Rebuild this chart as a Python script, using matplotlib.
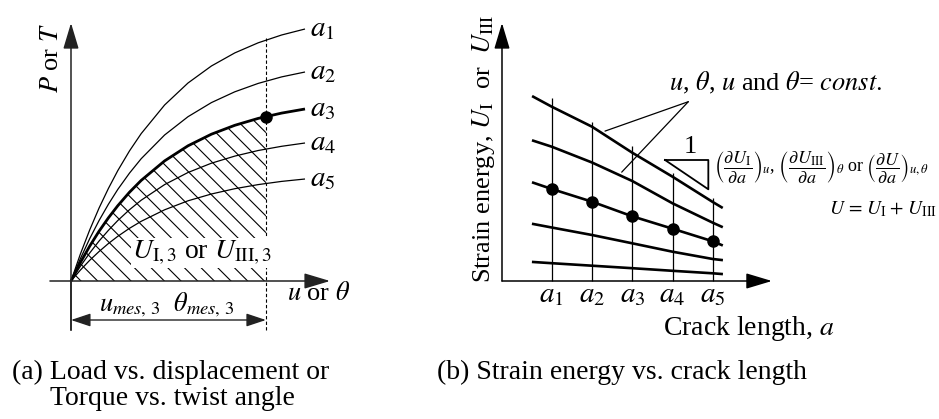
import numpy as np
import matplotlib
matplotlib.use("Agg")
import matplotlib.pyplot as plt

plt.rcParams['font.family'] = ['Liberation Serif', 'DejaVu Serif']
plt.rcParams['mathtext.fontset'] = 'stix'
plt.rcParams['hatch.linewidth'] = 0.8

# (a) load vs displacement, one curve per crack length
u_pts = [0, 0.04, 0.08, 0.12, 0.16, 0.2, 0.25, 0.3, 0.4, 0.5, 0.6, 0.7, 0.8, 0.9, 1.0]
load_a1 = [0, 0.269, 0.511, 0.730, 0.926, 1.104, 1.301, 1.474, 1.760, 1.980, 2.150, 2.281, 2.382, 2.460, 2.520]
load_a2 = [0, 0.223, 0.424, 0.605, 0.768, 0.916, 1.079, 1.223, 1.460, 1.643, 1.784, 1.892, 1.976, 2.041, 2.090]
load_a3 = [0, 0.184, 0.349, 0.498, 0.632, 0.753, 0.888, 1.006, 1.201, 1.352, 1.468, 1.557, 1.626, 1.679, 1.720]
load_a4 = [0, 0.147, 0.280, 0.400, 0.507, 0.605, 0.713, 0.808, 0.964, 1.085, 1.178, 1.249, 1.305, 1.347, 1.380]
load_a5 = [0, 0.109, 0.207, 0.295, 0.375, 0.447, 0.527, 0.597, 0.712, 0.802, 0.870, 0.923, 0.964, 0.996, 1.020]
curve_labels = [r'$a_1$', r'$a_2$', r'$a_3$', r'$a_4$', r'$a_5$']
u_mes = 0.833

# (b) strain energy vs crack length
a_ticks = [1, 2, 3, 4, 5]
tick_labels = [r'$a_1$', r'$a_2$', r'$a_3$', r'$a_4$', r'$a_5$']
a_line = [0.54, 1, 2, 3, 4, 5, 5.22]
energy_1 = [1.843, 1.743, 1.543, 1.283, 1.043, 0.790, 0.737]
energy_2 = [1.403, 1.343, 1.185, 1.000, 0.777, 0.583, 0.543]
energy_3 = [0.983, 0.920, 0.793, 0.647, 0.523, 0.397, 0.360]
energy_4 = [0.570, 0.535, 0.460, 0.377, 0.293, 0.220, 0.210]
energy_5 = [0.190, 0.178, 0.153, 0.128, 0.102, 0.077, 0.070]
vline_top = [1.827, 1.593, 1.353, 1.077, 0.830]

fig = plt.figure(figsize=(9.39, 4.19), dpi=100)
ax1 = fig.add_axes([0, 0, 470 / 939, 1])
ax2 = fig.add_axes([470 / 939, 0, 469 / 939, 1])
ax1.set_xlim(-0.3034, 1.7051)
ax1.set_ylim(-1.38, 2.81)
ax2.set_xlim(-1.031, 10.621)
ax2.set_ylim(-1.38, 2.81)
for ax in (ax1, ax2):
    ax.axis('off')


def arrow(ax, start, tip, hl=0.8, hw=0.24, style='-|>', color='#222222', lw=1.1):
    ax.annotate('', xy=tip, xytext=start,
                arrowprops=dict(arrowstyle=f'{style},head_length={hl},head_width={hw}',
                                mutation_scale=20, color=color, lw=lw,
                                shrinkA=0, shrinkB=0))


# ---- panel (a)
loads = [load_a1, load_a2, load_a3, load_a4, load_a5]
for i, (P, lab) in enumerate(zip(loads, curve_labels)):
    ax1.plot(u_pts, P, color='k', lw=2.0 if i == 2 else 0.9, solid_capstyle='butt')
    ax1.text(1.02, P[-1], lab, fontsize=21, va='center', ha='left')

u_fill = [u for u in u_pts if u < u_mes] + [u_mes]
P_fill = np.interp(u_fill, u_pts, load_a3)
ax1.fill_between(u_fill, 0, P_fill, facecolor='none', edgecolor='k',
                 hatch='\\\\', linewidth=0)

P_mes = np.interp(u_mes, u_pts, load_a3)
ax1.plot([u_mes, u_mes], [-0.49, 2.43], color='k', lw=0.8, ls=(0, (3, 2)))
ax1.plot(u_mes, P_mes, 'o', color='k', ms=8)

arrow(ax1, (-0.09, 0), (1.107, 0))
arrow(ax1, (0, -0.49), (0, 2.58))
ax1.plot([0, 0], [-0.49, 0], color='#222222', lw=1.1)
arrow(ax1, (0, -0.39), (u_mes, -0.39), hl=0.6, hw=0.2, style='<|-|>', lw=1.0)

ax1.text(-0.081, 2.23, r'$P$ or $T$', rotation=90, fontsize=19, ha='center', va='center')
ax1.text(0.56, 0.28, r'$U_{\mathrm{I},3}$ or $U_{\mathrm{III},3}$', fontsize=20,
         ha='center', va='center', zorder=3,
         bbox=dict(facecolor='white', edgecolor='none', pad=0.5))
ax1.text(0.923, -0.12, r'$u$ or $\theta$', fontsize=19, ha='left', va='center')
ax1.text(0.41, -0.24, r'$u_{mes,\,3}\ \ \theta_{mes,\,3}$', fontsize=19,
         ha='center', va='center')

# ---- panel (b)
for E in [energy_1, energy_2, energy_3, energy_4, energy_5]:
    ax2.plot(a_line, E, color='k', lw=1.9)
ax2.vlines(a_ticks, 0, vline_top, color='k', lw=0.9)
ax2.plot(a_ticks, energy_3[1:6], 'o', color='k', ms=8)

arrow(ax2, (-0.236, 0), (-0.236, 2.58), color='k')
arrow(ax2, (-0.236, 0), (6.47, 0), color='k')

for a, lab in zip(a_ticks, tick_labels):
    ax2.text(a, -0.14, lab, fontsize=21, ha='center', va='center')
ax2.text(5.90, -0.47, r'Crack length, $a$', fontsize=20, ha='center', va='center')
ax2.text(-0.708, -0.02, r'Strain energy, $U_\mathrm{I}$  or  $U_\mathrm{III}$',
         rotation=90, rotation_mode='anchor', ha='left', va='center', fontsize=19)

ax2.text(6.55, 1.98, r'$u$, $\theta$, $u$ and $\theta$= $const.$', fontsize=19,
         ha='center', va='center')
apex = (4.393, 1.793)
for E, a_hit in [(energy_1, 2.323), (energy_2, 2.738)]:
    ax2.annotate('', xy=(a_hit, np.interp(a_hit, a_line, E) + 0.04), xytext=apex,
                 arrowprops=dict(arrowstyle='-', lw=0.9, color='k', shrinkA=0, shrinkB=0))

ax2.plot([3.814, 4.89, 4.89, 3.814], [1.21, 1.21, 0.917, 1.21], color='k', lw=1.3)
ax2.text(4.435, 1.34, '1', fontsize=19, ha='center', va='center')
ax2.text(5.02, 1.13,
         r'$\left(\dfrac{\partial U_\mathrm{I}}{\partial a}\right)_u$, '
         r'$\left(\dfrac{\partial U_\mathrm{III}}{\partial a}\right)_\theta$ or '
         r'$\left(\dfrac{\partial U}{\partial a}\right)_{u,\theta}$',
         fontsize=13, ha='left', va='center')
ax2.text(9.23, 0.72, r'$U\, =\, U_\mathrm{I}+\, U_\mathrm{III}$', fontsize=14,
         ha='center', va='center')

# captions
fig.text(12 / 939, 0.112, '(a) Load vs. displacement or', fontsize=20, ha='left', va='center')
fig.text(50 / 939, 0.050, 'Torque vs. twist angle', fontsize=20, ha='left', va='center')
fig.text(437 / 939, 0.112, '(b) Strain energy vs. crack length', fontsize=20,
         ha='left', va='center')

fig.savefig('out.png', dpi=100)
